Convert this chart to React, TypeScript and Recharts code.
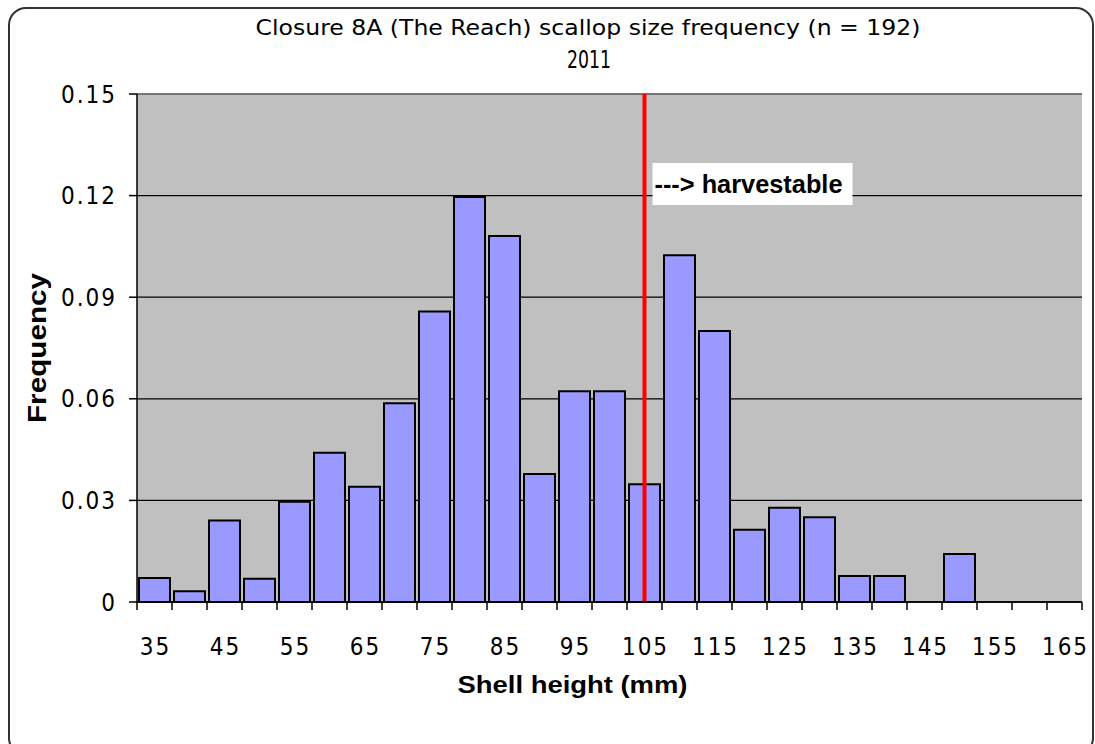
import React from "react";
import { BarChart, Bar, XAxis, YAxis, CartesianGrid, ReferenceLine } from "recharts";

// shell height classes (mm) and the share of scallops in each
const sizeClasses = [35, 40, 45, 50, 55, 60, 65, 70, 75, 80, 85, 90, 95, 100, 105, 110, 115, 120, 125, 130, 135, 140, 145, 150, 155, 160, 165];
const frequencies = [0.0071, 0.0032, 0.0241, 0.0069, 0.0296, 0.0441, 0.034, 0.0587, 0.0858, 0.1196, 0.1081, 0.0378, 0.0622, 0.0622, 0.0348, 0.1024, 0.08, 0.0213, 0.0278, 0.025, 0.0077, 0.0077, 0, 0.0142, 0, 0, 0];
const yTicks = [0, 0.03, 0.06, 0.09, 0.12, 0.15];
const harvestClass = 105;

const data = sizeClasses.map((size, i) => ({ size, freq: frequencies[i] }));

const sans = "'DejaVu Sans Condensed', 'Liberation Sans', Arial, sans-serif";
const boldSans = "'Liberation Sans', Arial, sans-serif";
const tickStyle = { fill: "#000", fontSize: 24, fontFamily: sans, letterSpacing: 2 };

// category tick: tick marks on the bin edges, label on every other bin
function SizeTick(props: any) {
  const { x, y, payload, index } = props;
  const half = payload.offset || 17.5;
  const last = index === sizeClasses.length - 1;
  return (
    <g>
      <line x1={x - half} x2={x - half} y1={y} y2={y + 8} stroke="#000" strokeWidth={1.5} />
      {last && <line x1={x + half} x2={x + half} y1={y} y2={y + 8} stroke="#000" strokeWidth={1.5} />}
      {index % 2 === 0 && (
        <text x={x + 1} y={y + 36} dy="0.71em" textAnchor="middle" {...tickStyle}>
          {payload.value}
        </text>
      )}
    </g>
  );
}

function HarvestLabel(props: any) {
  const vb = props.viewBox || {};
  const x = vb.x + 8;
  const y = vb.y + 69;
  return (
    <g>
      <rect x={x} y={y} width={200} height={42} fill="#fff" />
      <text x={x + 2} y={y + 30} fontFamily={boldSans} fontWeight="bold" fontSize={25} fill="#000"
        textLength={188} lengthAdjust="spacingAndGlyphs">
        ---&gt; harvestable
      </text>
    </g>
  );
}

function YTitle(props: any) {
  const vb = props.viewBox || {};
  const cx = 37;
  const cy = vb.y + vb.height / 2;
  return (
    <text x={cx} y={cy} transform={`rotate(-90 ${cx} ${cy})`} textAnchor="middle" dominantBaseline="central"
      fontFamily={boldSans} fontWeight="bold" fontSize={25} fill="#000" textLength={150} lengthAdjust="spacingAndGlyphs">
      Frequency
    </text>
  );
}

function XTitle(props: any) {
  const vb = props.viewBox || {};
  return (
    <text x={vb.x + vb.width / 2 - 37} y={693} textAnchor="middle"
      fontFamily={boldSans} fontWeight="bold" fontSize={24} fill="#000" textLength={230} lengthAdjust="spacingAndGlyphs">
      Shell height (mm)
    </text>
  );
}

export default function App() {
  return (
    <div style={{ position: "fixed", left: 0, top: 0, width: 1095, height: 744, background: "#fff", overflow: "hidden" }}>
      <div style={{ position: "absolute", left: 8, top: 7, right: 1, bottom: -12, border: "2px solid #333", borderRadius: 18 }} />
      <svg width={1095} height={80} style={{ position: "absolute", left: 0, top: 0 }}>
        <text x={588} y={35} textAnchor="middle" fontFamily={sans} fontSize={21} fill="#000"
          textLength={665} lengthAdjust="spacingAndGlyphs">
          Closure 8A (The Reach) scallop size frequency (n = 192)
        </text>
        <text x={589} y={68} textAnchor="middle" fontFamily={sans} fontSize={24} fill="#000"
          textLength={44} lengthAdjust="spacingAndGlyphs">
          2011
        </text>
      </svg>
      <div style={{ position: "absolute", left: 0, top: 0 }}>
        <BarChart width={1095} height={744} data={data} margin={{ top: 94, right: 13, left: 0, bottom: 0 }}
          barCategoryGap={2}>
          <CartesianGrid horizontal vertical={false} fill="#c0c0c0" stroke="#000" strokeWidth={1.3} fillOpacity={1} />
          <XAxis dataKey="size" interval={0} height={142} tickSize={0} tickMargin={0}
            axisLine={{ stroke: "#000", strokeWidth: 1.5 }} tickLine={false} tick={<SizeTick />} label={<XTitle />} />
          <YAxis domain={[0, 0.15]} ticks={yTicks} width={137} tickSize={8} tickMargin={12}
            tick={tickStyle} axisLine={{ stroke: "#000", strokeWidth: 1.5 }} tickLine={{ stroke: "#000", strokeWidth: 1.5 }}
            label={<YTitle />} />
          <ReferenceLine y={0.15} stroke="#8a8a8a" strokeWidth={1.5} />
          <Bar dataKey="freq" fill="#9999ff" stroke="#000" strokeWidth={2} isAnimationActive={false} />
          <ReferenceLine x={harvestClass} stroke="#ff0000" strokeWidth={4} label={<HarvestLabel />} />
        </BarChart>
      </div>
    </div>
  );
}
